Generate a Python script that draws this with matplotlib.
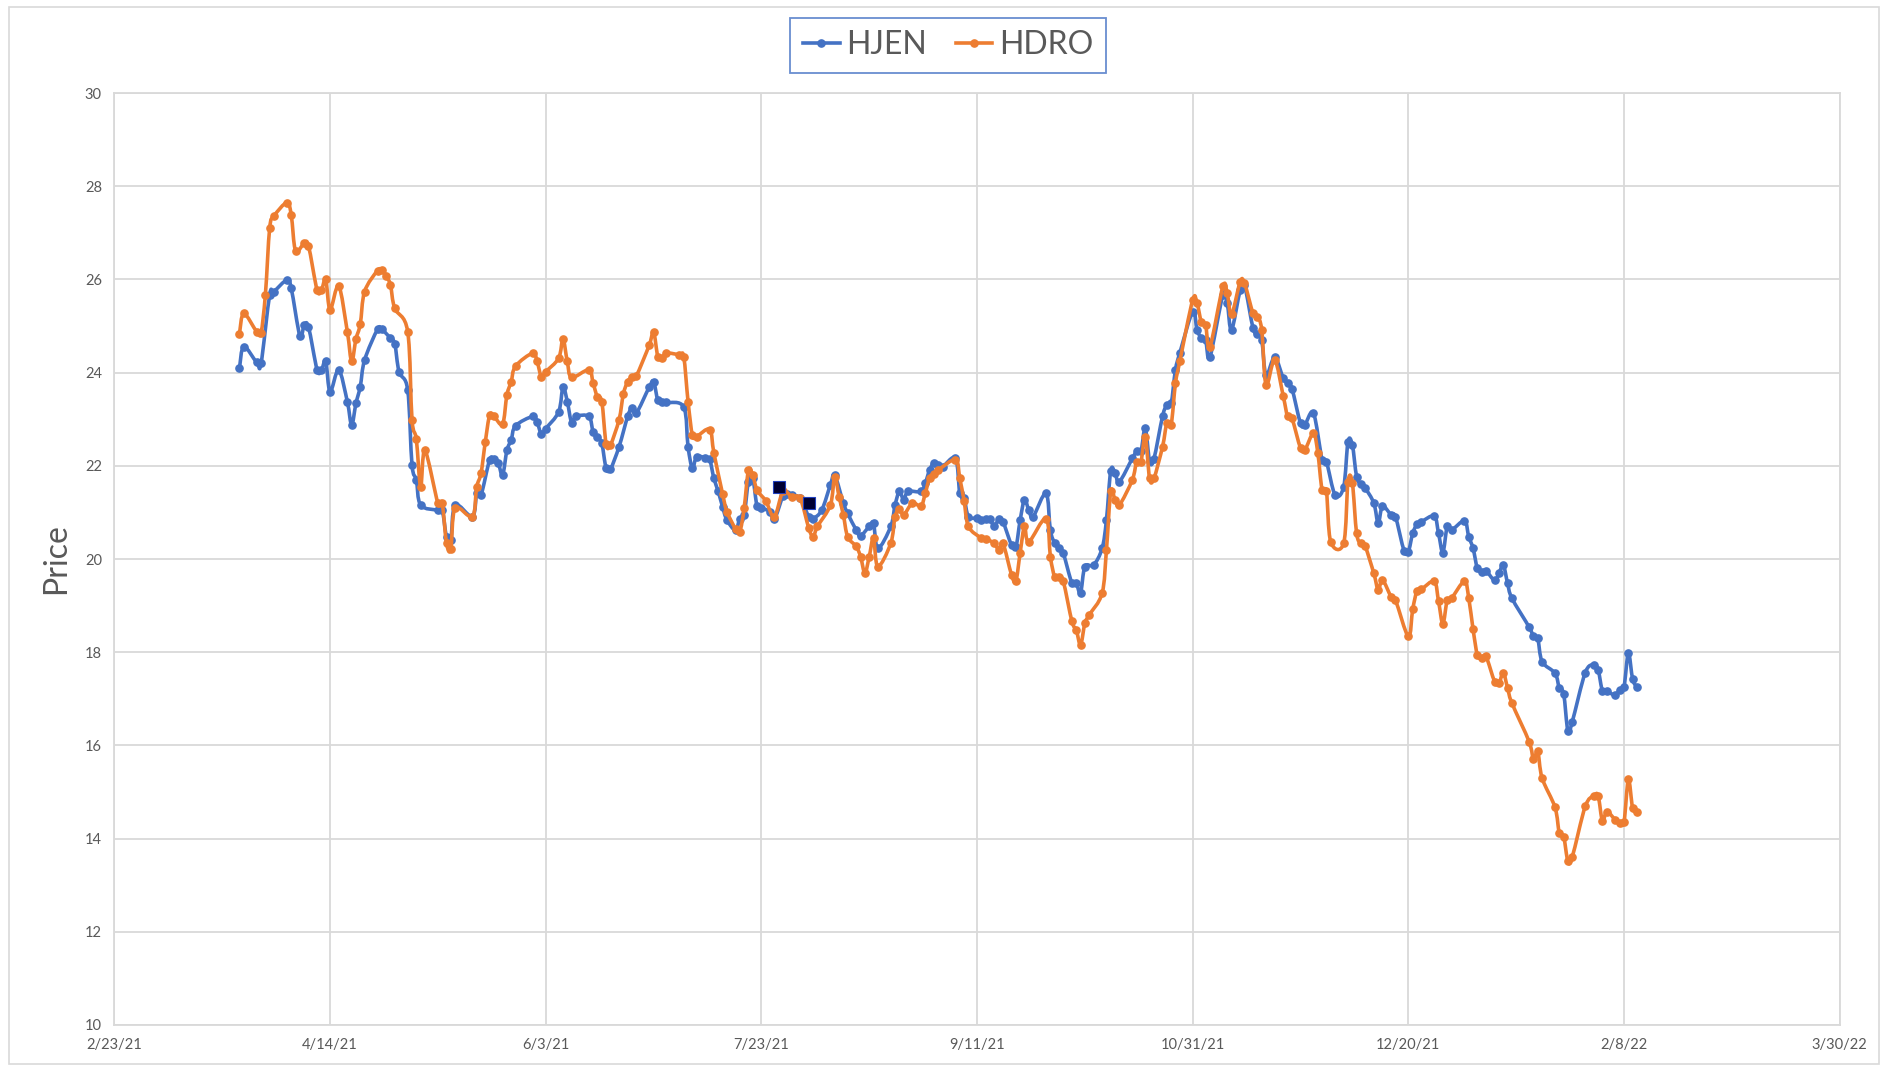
import matplotlib
matplotlib.use("Agg")
import matplotlib.pyplot as plt
import matplotlib.dates as mdates
from matplotlib.patches import Rectangle, PathPatch
from matplotlib.path import Path
from matplotlib.lines import Line2D
import pandas as pd

# ---------------- data ----------------
hjen_dates = [
    "2021-03-24", "2021-03-25", "2021-03-28", "2021-03-29", "2021-03-31", "2021-04-01",
    "2021-04-04", "2021-04-05", "2021-04-07", "2021-04-08", "2021-04-09", "2021-04-11",
    "2021-04-12", "2021-04-13", "2021-04-14", "2021-04-16", "2021-04-18", "2021-04-19",
    "2021-04-20", "2021-04-21", "2021-04-22", "2021-04-25", "2021-04-26", "2021-04-28",
    "2021-04-29", "2021-04-30", "2021-05-02", "2021-05-03", "2021-05-04", "2021-05-05",
    "2021-05-09", "2021-05-10", "2021-05-11", "2021-05-12", "2021-05-13", "2021-05-17",
    "2021-05-18", "2021-05-19", "2021-05-21", "2021-05-22", "2021-05-23", "2021-05-24",
    "2021-05-25", "2021-05-26", "2021-05-27", "2021-05-31", "2021-06-01", "2021-06-02",
    "2021-06-03", "2021-06-06", "2021-06-07", "2021-06-08", "2021-06-09", "2021-06-10",
    "2021-06-13", "2021-06-14", "2021-06-15", "2021-06-16", "2021-06-17", "2021-06-18",
    "2021-06-20", "2021-06-22", "2021-06-23", "2021-06-24", "2021-06-27", "2021-06-28",
    "2021-06-29", "2021-06-30", "2021-07-01", "2021-07-05", "2021-07-06", "2021-07-07",
    "2021-07-08", "2021-07-10", "2021-07-11", "2021-07-12", "2021-07-13", "2021-07-14",
    "2021-07-15", "2021-07-17", "2021-07-18", "2021-07-19", "2021-07-20", "2021-07-21",
    "2021-07-22", "2021-07-23", "2021-07-25", "2021-07-26", "2021-07-28", "2021-07-29",
    "2021-07-30", "2021-08-01", "2021-08-03", "2021-08-04", "2021-08-06", "2021-08-08",
    "2021-08-09", "2021-08-11", "2021-08-12", "2021-08-14", "2021-08-15", "2021-08-17",
    "2021-08-18", "2021-08-19", "2021-08-22", "2021-08-23", "2021-08-24", "2021-08-25",
    "2021-08-26", "2021-08-29", "2021-08-30", "2021-08-31", "2021-09-01", "2021-09-02",
    "2021-09-03", "2021-09-06", "2021-09-07", "2021-09-08", "2021-09-09", "2021-09-11",
    "2021-09-12", "2021-09-13", "2021-09-14", "2021-09-15", "2021-09-16", "2021-09-17",
    "2021-09-19", "2021-09-20", "2021-09-21", "2021-09-22", "2021-09-23", "2021-09-24",
    "2021-09-27", "2021-09-28", "2021-09-29", "2021-09-30", "2021-10-01", "2021-10-03",
    "2021-10-04", "2021-10-05", "2021-10-06", "2021-10-08", "2021-10-10", "2021-10-11",
    "2021-10-12", "2021-10-13", "2021-10-14", "2021-10-17", "2021-10-18", "2021-10-19",
    "2021-10-20", "2021-10-21", "2021-10-22", "2021-10-24", "2021-10-25", "2021-10-26",
    "2021-10-27", "2021-10-28", "2021-10-31", "2021-11-01", "2021-11-02", "2021-11-03",
    "2021-11-04", "2021-11-07", "2021-11-08", "2021-11-09", "2021-11-11", "2021-11-12",
    "2021-11-14", "2021-11-15", "2021-11-16", "2021-11-17", "2021-11-19", "2021-11-21",
    "2021-11-22", "2021-11-23", "2021-11-25", "2021-11-26", "2021-11-28", "2021-11-30",
    "2021-12-01", "2021-12-03", "2021-12-05", "2021-12-06", "2021-12-07", "2021-12-08",
    "2021-12-09", "2021-12-10", "2021-12-12", "2021-12-13", "2021-12-14", "2021-12-16",
    "2021-12-17", "2021-12-19", "2021-12-20", "2021-12-21", "2021-12-22", "2021-12-23",
    "2021-12-26", "2021-12-27", "2021-12-28", "2021-12-29", "2021-12-30", "2022-01-02",
    "2022-01-03", "2022-01-04", "2022-01-05", "2022-01-06", "2022-01-07", "2022-01-09",
    "2022-01-10", "2022-01-11", "2022-01-12", "2022-01-13", "2022-01-17", "2022-01-18",
    "2022-01-19", "2022-01-20", "2022-01-23", "2022-01-24", "2022-01-25", "2022-01-26",
    "2022-01-27", "2022-01-30", "2022-02-01", "2022-02-02", "2022-02-03", "2022-02-04",
    "2022-02-06", "2022-02-07", "2022-02-08", "2022-02-09", "2022-02-10", "2022-02-11",
]
hjen_prices = [
    24.10, 24.56, 24.22, 24.20, 25.67, 25.74,
    25.99, 25.81, 24.79, 25.02, 24.98, 24.06,
    24.05, 24.25, 23.59, 24.06, 23.38, 22.88,
    23.34, 23.70, 24.27, 24.93, 24.93, 24.74,
    24.62, 24.02, 23.63, 22.02, 21.70, 21.16,
    21.05, 21.06, 20.48, 20.40, 21.16, 20.91,
    21.41, 21.37, 22.13, 22.14, 22.06, 21.80,
    22.33, 22.56, 22.86, 23.06, 22.94, 22.68,
    22.80, 23.16, 23.69, 23.38, 22.93, 23.06,
    23.06, 22.73, 22.61, 22.48, 21.95, 21.93,
    22.41, 23.06, 23.24, 23.13, 23.69, 23.81,
    23.41, 23.38, 23.36, 23.26, 22.41, 21.95,
    22.20, 22.17, 22.14, 21.73, 21.45, 21.12,
    20.84, 20.62, 20.87, 20.95, 21.66, 21.73,
    21.13, 21.09, 21.02, 20.85, 21.35, 21.40,
    21.38, 21.30, 20.91, 20.87, 21.05, 21.59,
    21.80, 21.20, 20.98, 20.62, 20.50, 20.70,
    20.77, 20.23, 20.70, 21.16, 21.45, 21.27,
    21.45, 21.45, 21.63, 21.91, 22.07, 22.02,
    21.98, 22.16, 21.41, 21.30, 20.91, 20.88,
    20.84, 20.87, 20.85, 20.70, 20.85, 20.80,
    20.30, 20.25, 20.84, 21.27, 21.05, 20.91,
    21.41, 20.62, 20.34, 20.23, 20.12, 19.48,
    19.48, 19.27, 19.84, 19.87, 20.23, 20.84,
    21.90, 21.85, 21.66, 22.16, 22.31, 22.31,
    22.81, 22.10, 22.15, 23.06, 23.31, 23.34,
    24.06, 24.42, 25.31, 24.92, 24.74, 24.70,
    24.34, 25.67, 25.49, 24.92, 25.77, 25.88,
    24.95, 24.84, 24.70, 23.95, 24.33, 23.88,
    23.77, 23.66, 22.91, 22.88, 23.13, 22.13,
    22.09, 21.38, 21.55, 22.52, 22.45, 21.77,
    21.60, 21.52, 21.20, 20.77, 21.13, 20.95,
    20.91, 20.18, 20.16, 20.55, 20.75, 20.80,
    20.92, 20.55, 20.14, 20.70, 20.62, 20.82,
    20.48, 20.23, 19.80, 19.73, 19.75, 19.54,
    19.69, 19.87, 19.48, 19.16, 18.54, 18.34,
    18.30, 17.80, 17.55, 17.23, 17.11, 16.30,
    16.51, 17.56, 17.73, 17.62, 17.16, 17.16,
    17.08, 17.20, 17.26, 17.98, 17.42, 17.25,
]

hdro_dates = [
    "2021-03-24", "2021-03-25", "2021-03-28", "2021-03-29", "2021-03-30", "2021-03-31",
    "2021-04-01", "2021-04-04", "2021-04-05", "2021-04-06", "2021-04-08", "2021-04-09",
    "2021-04-11", "2021-04-12", "2021-04-13", "2021-04-14", "2021-04-16", "2021-04-18",
    "2021-04-19", "2021-04-20", "2021-04-21", "2021-04-22", "2021-04-25", "2021-04-26",
    "2021-04-27", "2021-04-28", "2021-04-29", "2021-05-02", "2021-05-03", "2021-05-04",
    "2021-05-05", "2021-05-06", "2021-05-09", "2021-05-10", "2021-05-11", "2021-05-12",
    "2021-05-13", "2021-05-17", "2021-05-18", "2021-05-19", "2021-05-20", "2021-05-21",
    "2021-05-22", "2021-05-24", "2021-05-25", "2021-05-26", "2021-05-27", "2021-05-31",
    "2021-06-01", "2021-06-02", "2021-06-03", "2021-06-06", "2021-06-07", "2021-06-08",
    "2021-06-09", "2021-06-13", "2021-06-14", "2021-06-15", "2021-06-16", "2021-06-17",
    "2021-06-18", "2021-06-20", "2021-06-21", "2021-06-22", "2021-06-23", "2021-06-24",
    "2021-06-27", "2021-06-28", "2021-06-29", "2021-06-30", "2021-07-01", "2021-07-04",
    "2021-07-05", "2021-07-06", "2021-07-07", "2021-07-08", "2021-07-11", "2021-07-12",
    "2021-07-14", "2021-07-15", "2021-07-17", "2021-07-18", "2021-07-19", "2021-07-20",
    "2021-07-21", "2021-07-22", "2021-07-24", "2021-07-26", "2021-07-28", "2021-07-30",
    "2021-08-01", "2021-08-03", "2021-08-04", "2021-08-05", "2021-08-08", "2021-08-09",
    "2021-08-10", "2021-08-11", "2021-08-12", "2021-08-14", "2021-08-15", "2021-08-16",
    "2021-08-17", "2021-08-18", "2021-08-19", "2021-08-22", "2021-08-23", "2021-08-24",
    "2021-08-25", "2021-08-27", "2021-08-29", "2021-08-30", "2021-08-31", "2021-09-01",
    "2021-09-02", "2021-09-06", "2021-09-07", "2021-09-08", "2021-09-09", "2021-09-12",
    "2021-09-13", "2021-09-15", "2021-09-16", "2021-09-17", "2021-09-19", "2021-09-20",
    "2021-09-21", "2021-09-22", "2021-09-23", "2021-09-27", "2021-09-28", "2021-09-29",
    "2021-09-30", "2021-10-01", "2021-10-03", "2021-10-04", "2021-10-05", "2021-10-06",
    "2021-10-07", "2021-10-10", "2021-10-11", "2021-10-12", "2021-10-13", "2021-10-14",
    "2021-10-17", "2021-10-18", "2021-10-19", "2021-10-20", "2021-10-21", "2021-10-22",
    "2021-10-24", "2021-10-25", "2021-10-26", "2021-10-27", "2021-10-28", "2021-10-31",
    "2021-11-01", "2021-11-02", "2021-11-03", "2021-11-04", "2021-11-07", "2021-11-08",
    "2021-11-09", "2021-11-11", "2021-11-12", "2021-11-14", "2021-11-15", "2021-11-16",
    "2021-11-17", "2021-11-19", "2021-11-21", "2021-11-22", "2021-11-23", "2021-11-25",
    "2021-11-26", "2021-11-28", "2021-11-29", "2021-11-30", "2021-12-01", "2021-12-02",
    "2021-12-05", "2021-12-06", "2021-12-07", "2021-12-08", "2021-12-09", "2021-12-10",
    "2021-12-12", "2021-12-13", "2021-12-14", "2021-12-16", "2021-12-17", "2021-12-20",
    "2021-12-21", "2021-12-22", "2021-12-23", "2021-12-26", "2021-12-27", "2021-12-28",
    "2021-12-29", "2021-12-30", "2022-01-02", "2022-01-03", "2022-01-04", "2022-01-05",
    "2022-01-06", "2022-01-07", "2022-01-09", "2022-01-10", "2022-01-11", "2022-01-12",
    "2022-01-13", "2022-01-17", "2022-01-18", "2022-01-19", "2022-01-20", "2022-01-23",
    "2022-01-24", "2022-01-25", "2022-01-26", "2022-01-27", "2022-01-30", "2022-02-01",
    "2022-02-02", "2022-02-03", "2022-02-04", "2022-02-06", "2022-02-07", "2022-02-08",
    "2022-02-09", "2022-02-10", "2022-02-11",
]
hdro_prices = [
    24.84, 25.27, 24.88, 24.86, 25.67, 27.10,
    27.36, 27.65, 27.38, 26.62, 26.78, 26.72,
    25.77, 25.77, 26.00, 25.35, 25.86, 24.88,
    24.24, 24.72, 25.04, 25.74, 26.19, 26.20,
    26.08, 25.88, 25.38, 24.88, 22.99, 22.57,
    21.55, 22.33, 21.20, 21.20, 20.34, 20.21,
    21.09, 20.91, 21.55, 21.84, 22.52, 23.09,
    23.06, 22.90, 23.52, 23.81, 24.14, 24.42,
    24.24, 23.91, 24.02, 24.31, 24.72, 24.24,
    23.90, 24.06, 23.77, 23.47, 23.38, 22.47,
    22.45, 22.99, 23.54, 23.81, 23.90, 23.93,
    24.59, 24.88, 24.34, 24.31, 24.42, 24.38,
    24.34, 23.38, 22.66, 22.63, 22.78, 22.27,
    21.40, 21.02, 20.65, 20.59, 21.09, 21.91,
    21.80, 21.48, 21.25, 20.91, 21.45, 21.34,
    21.30, 20.66, 20.48, 20.70, 21.16, 21.77,
    21.34, 20.95, 20.48, 20.27, 20.05, 19.70,
    20.05, 20.45, 19.84, 20.34, 20.91, 21.07,
    20.95, 21.20, 21.14, 21.41, 21.75, 21.83,
    21.91, 22.13, 21.73, 21.25, 20.70, 20.45,
    20.43, 20.34, 20.20, 20.34, 19.66, 19.52,
    20.14, 20.70, 20.37, 20.87, 20.05, 19.62,
    19.62, 19.52, 18.66, 18.48, 18.16, 18.62,
    18.80, 19.27, 20.20, 21.45, 21.27, 21.16,
    21.70, 22.09, 22.09, 22.63, 21.73, 21.73,
    22.41, 22.91, 22.88, 23.77, 24.24, 25.56,
    25.49, 25.09, 25.02, 24.56, 25.85, 25.70,
    25.25, 25.95, 25.92, 25.27, 25.20, 24.92,
    23.74, 24.27, 23.49, 23.06, 23.02, 22.38,
    22.34, 22.70, 22.28, 21.48, 21.45, 20.37,
    20.34, 21.66, 21.64, 20.55, 20.34, 20.27,
    19.69, 19.34, 19.55, 19.19, 19.12, 18.34,
    18.92, 19.32, 19.35, 19.52, 19.09, 18.61,
    19.12, 19.16, 19.52, 19.16, 18.49, 17.94,
    17.87, 17.91, 17.37, 17.33, 17.56, 17.23,
    16.91, 16.08, 15.70, 15.87, 15.30, 14.67,
    14.11, 14.04, 13.51, 13.61, 14.69, 14.92,
    14.92, 14.37, 14.58, 14.40, 14.34, 14.36,
    15.27, 14.65, 14.58,
]

# two highlighted (selected) points shown as dark squares
highlight_dates = ["2021-07-27", "2021-08-03"]
highlight_prices = [21.55, 21.20]

series_names = ["HJEN", "HDRO"]
x_ticks = ["2021-02-23", "2021-04-14", "2021-06-03", "2021-07-23", "2021-09-11",
           "2021-10-31", "2021-12-20", "2022-02-08", "2022-03-30"]
y_ticks = [10, 12, 14, 16, 18, 20, 22, 24, 26, 28, 30]
y_label = "Price"

# ---------------- style ----------------
plt.rcParams["font.family"] = ["Lato", "DejaVu Sans"]
BLUE = "#4472C4"
ORANGE = "#ED7D31"
GRID = "#D9D9D9"
TEXT = "#595959"
LW = 2.6
MS = 5.2

W, H = 1888, 1066
fig = plt.figure(figsize=(W / 100, H / 100), dpi=100)
fig.patch.set_facecolor("white")

ax = fig.add_axes([114.4 / W, 1 - 1025 / H, (1839.7 - 114.4) / W, (1025 - 93.1) / H])

xd_hjen = pd.to_datetime(hjen_dates)
xd_hdro = pd.to_datetime(hdro_dates)
xd_hl = pd.to_datetime(highlight_dates)
xt = pd.to_datetime(x_ticks)


def smooth_path(xs, ys):
    """Excel-style smoothed line: cubic Bezier through every data point."""
    n = len(xs)
    verts = [(xs[0], ys[0])]
    codes = [Path.MOVETO]
    for i in range(n - 1):
        i0 = max(i - 1, 0)
        i3 = min(i + 2, n - 1)
        c1 = (xs[i] + (xs[i + 1] - xs[i0]) / 6.0, ys[i] + (ys[i + 1] - ys[i0]) / 6.0)
        c2 = (xs[i + 1] - (xs[i3] - xs[i]) / 6.0, ys[i + 1] - (ys[i3] - ys[i]) / 6.0)
        verts += [c1, c2, (xs[i + 1], ys[i + 1])]
        codes += [Path.CURVE4] * 3
    return Path(verts, codes)


for xd, yv, col, z in [(xd_hjen, hjen_prices, BLUE, 3), (xd_hdro, hdro_prices, ORANGE, 4)]:
    ax.plot(xd, yv, ls="none", marker="o", ms=MS, mfc=col, mec=col, zorder=z + 0.5)
    xn = mdates.date2num(xd)
    ax.add_patch(PathPatch(smooth_path(list(xn), list(yv)), fill=False, edgecolor=col,
                           lw=LW, joinstyle="round", capstyle="round", zorder=z))

ax.plot(xd_hl, highlight_prices, ls="none", marker="s", ms=8.5,
        mfc="#000033", mec="#1F3FBF", mew=0.8, zorder=6)

ax.set_xlim(xt[0], xt[-1])
ax.set_ylim(y_ticks[0], y_ticks[-1])
ax.set_xticks(xt)
ax.set_xticklabels([f"{d.month}/{d.day}/{d.year % 100}" for d in xt])
ax.set_yticks(y_ticks)
ax.set_yticklabels([str(v) for v in y_ticks])

ax.grid(True, color=GRID, lw=1.3, zorder=0)
ax.set_axisbelow(True)
for s in ax.spines.values():
    s.set_color(GRID)
    s.set_linewidth(1.3)
ax.tick_params(length=0, labelsize=10.5, colors=TEXT)
ax.tick_params(axis="y", pad=9)
ax.tick_params(axis="x", pad=9)

ax.set_ylabel(y_label, fontsize=23, color=TEXT, labelpad=10)

handles = [Line2D([], [], color=BLUE, lw=LW, marker="o", ms=MS),
           Line2D([], [], color=ORANGE, lw=LW, marker="o", ms=MS)]
leg = fig.legend(handles, series_names, loc="center", bbox_to_anchor=(948 / W, 1 - 45.5 / H),
                 ncol=2, fontsize=23, frameon=True, fancybox=False, edgecolor=BLUE,
                 handlelength=1.15, handletextpad=0.2, columnspacing=0.9,
                 borderpad=0.4, borderaxespad=0, labelcolor=TEXT)
leg.get_frame().set_linewidth(1.3)

# outer chart-area border
fig.patches.append(Rectangle((9 / W, 2 / H), (W - 18) / W, (H - 9) / H,
                             transform=fig.transFigure, fill=False,
                             edgecolor="#D9D9D9", lw=1.2))

fig.savefig("out.png", dpi=100)
